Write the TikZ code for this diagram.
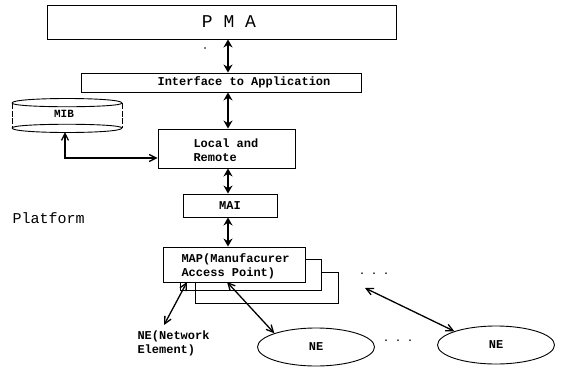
\documentclass[tikz,border=0pt]{standalone}
\usepackage{fontspec}
\setmonofont{Liberation Mono}
\usetikzlibrary{arrows.meta,shapes.geometric}
\begin{document}
\begin{tikzpicture}[x=1pt,y=-1pt,
  box/.style={draw,line width=0.9pt,inner sep=0pt},
  txt/.style={font=\ttfamily\bfseries\fontsize{12}{14}\selectfont},
  bigarrow/.style={{Stealth[length=8pt,width=9pt]}-{Stealth[length=8pt,width=9pt]},line width=2.4pt},
  thinarrow/.style={{Straight Barb[length=7pt,width=7pt]}-{Straight Barb[length=7pt,width=7pt]},line width=1.3pt},
  ne/.style={draw,ellipse,line width=0.9pt,minimum width=117pt,minimum height=38pt,inner sep=0pt}]
\useasboundingbox (0,0) rectangle (562,367);
% PMA
\node[box,minimum width=349pt,minimum height=34pt] (pma) at (221.5,22) {};
\node[font=\ttfamily\fontsize{18}{20}\selectfont] (pmat) at (229,22) {P M A};
\fill (205,48) circle (0.8pt);
% Interface
\node[box,minimum width=280pt,minimum height=19pt] (ifc) at (221,82.5) {};
\node[txt] (ifct) at (244,82.5) {Interface to Application};
% MIB drum
\draw[line width=0.9pt,dash pattern=on 6pt off 1.5pt] (12,103) -- (12,128);
\draw[line width=0.9pt,dash pattern=on 6pt off 1.5pt] (122,103) -- (122,128);
\draw[line width=0.9pt] (12,103) .. controls (12,97) and (122,97) .. (122,103);
\draw[line width=0.9pt] (12,103) .. controls (12,108) and (122,108) .. (122,103);
\draw[line width=0.9pt] (12,128) .. controls (12,123) and (122,123) .. (122,128);
\draw[line width=0.9pt] (12,128) .. controls (12,134) and (122,134) .. (122,128);
\node[font=\ttfamily\bfseries\fontsize{11}{13}\selectfont] (mib) at (64,114) {MIB};
\coordinate (mibb) at (65,132);
% Local and Remote
\node[box,minimum width=137pt,minimum height=39pt] (loc) at (226.5,148.5) {};
\node[txt,align=left,anchor=north west] (loct) at (190,135) {Local and\\Remote};
\coordinate (bend) at (65,158);
\draw[thinarrow] (mibb) -- (bend) -- (loc.west |- bend);
% MAI
\node[box,minimum width=94pt,minimum height=23pt] (mai) at (230,205.5) {};
\node[txt] (mait) at (230,205.5) {MAI};
% Platform
\node[font=\ttfamily\fontsize{15}{17}\selectfont,anchor=west] (plat) at (9,218) {Platform};
% MAP stack
\draw[line width=0.9pt] (195,272) -- (195,303) -- (338,303) -- (338,272) -- (321,272);
\draw[line width=0.9pt] (180,282) -- (180,290) -- (321,290) -- (321,259) -- (305,259);
\node[box,minimum width=142pt,minimum height=35pt,fill=white] (map) at (234,264.5) {};
\node[txt,align=left,anchor=north west] (mapt) at (178,250) {MAP(Manufacurer\\Access Point)};
% vertical arrows
\draw[bigarrow] (pma.south -| 228,0) -- (ifc.north -| 228,0);
\draw[bigarrow] (ifc.south -| 228,0) -- (loc.north -| 228,0);
\draw[bigarrow] (loc.south -| 228,0) -- (mai.north -| 228,0);
\draw[bigarrow] (mai.south -| 228,0) -- (map.north -| 228,0);
% NE text
\node[txt,align=left,anchor=north west] (net) at (134,327) {NE(Network\\Element)};
% ellipses
\node[ne] (ne1) at (316,347) {\ttfamily\bfseries\fontsize{12}{14}\selectfont NE};
\node[ne] (ne2) at (496,345) {\ttfamily\bfseries\fontsize{12}{14}\selectfont NE};
% dots
\node[font=\ttfamily\bfseries\fontsize{10}{12}\selectfont] (dots1) at (398,341) {.\ .\ .};
\node[font=\ttfamily\bfseries\fontsize{10}{12}\selectfont] (dots2) at (374,274) {.\ .\ .};
\coordinate (dd) at (365,288);
% diagonal arrows
\coordinate (m1) at (187,282);
\coordinate (m2) at (227,282);
\coordinate (n1) at (164,325);
\draw[thinarrow] (m1) -- (n1);
\draw[thinarrow] (m2) -- (ne1.north west);
\draw[thinarrow] (dd) -- (ne2.north west);
\end{tikzpicture}
\end{document}
